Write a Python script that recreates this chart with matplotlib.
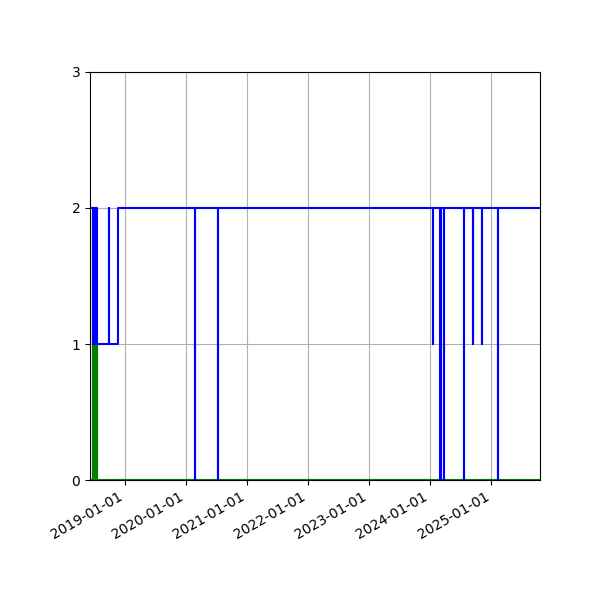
import matplotlib
matplotlib.use("Agg")
import matplotlib.pyplot as plt
import matplotlib.dates as mdates
import numpy as np

# puntos de cambio (fecha, valor) -- dibujado con steps-post
fechas_azul = [
    "2018-06-07", "2018-06-25", "2018-06-27", "2018-06-29", "2018-07-02",
    "2018-07-05", "2018-07-08", "2018-07-12", "2018-07-14", "2018-07-18",
    "2018-09-26", "2018-09-28", "2018-11-19",
    "2020-02-24", "2020-02-26", "2020-07-10", "2020-07-12",
    "2024-01-17", "2024-01-18", "2024-03-01", "2024-03-03",
    "2024-03-24", "2024-03-26", "2024-07-19", "2024-07-22", "2024-07-23",
    "2024-09-14", "2024-09-15", "2024-11-05", "2024-11-06",
    "2025-02-08", "2025-02-10", "2025-10-19",
]
valores_azul = [
    2, 1, 2, 1, 2,
    1, 2, 1, 2, 1,
    2, 1, 2,
    0, 2, 0, 2,
    1, 2, 0, 2,
    0, 2, 1, 0, 2,
    1, 2, 1, 2,
    0, 2, 2,
]

fechas_verde = [
    "2018-06-07", "2018-06-25", "2018-06-27", "2018-06-29", "2018-07-02",
    "2018-07-05", "2018-07-08", "2018-07-12", "2018-07-14", "2018-07-18",
    "2018-07-20", "2025-10-19",
]
valores_verde = [0, 1, 0, 1, 0, 1, 0, 1, 0, 1, 0, 0]

x_azul = np.array(fechas_azul, dtype="datetime64[D]")
x_verde = np.array(fechas_verde, dtype="datetime64[D]")

fig = plt.figure(figsize=(6, 6), dpi=100)
ax = fig.add_axes([0.15, 0.2, 0.75, 0.68])

ax.step(x_verde, valores_verde, where="post", color="green", linewidth=1.5)
ax.step(x_azul, valores_azul, where="post", color="blue", linewidth=1.5)

ax.set_xlim(x_azul[0], x_azul[-1])
ax.set_ylim(0, 3)
ax.set_yticks([0, 1, 2, 3])
ax.xaxis.set_major_locator(mdates.YearLocator())
ax.xaxis.set_major_formatter(mdates.DateFormatter("%Y-%m-%d"))
ax.grid(True)

for lbl in ax.get_xticklabels():
    lbl.set_rotation(30)
    lbl.set_ha("right")

fig.savefig("out.png", dpi=100)
